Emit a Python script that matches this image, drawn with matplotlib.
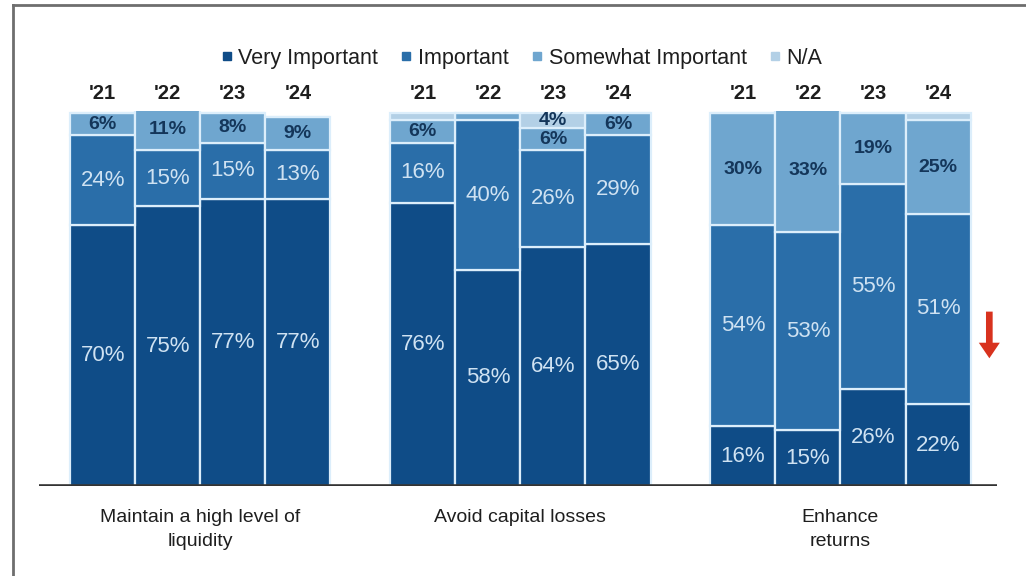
import matplotlib
matplotlib.use("Agg")
import matplotlib.pyplot as plt
from matplotlib.lines import Line2D
import numpy as np

plt.rcParams["font.family"] = ["Liberation Sans", "DejaVu Sans"]

# survey data: share of respondents per rating, by objective and year
years = ["'21", "'22", "'23", "'24"]
objectives = ["Maintain a high level of\nliquidity", "Avoid capital losses", "Enhance\nreturns"]
series_names = ["Very Important", "Important", "Somewhat Important", "N/A"]

very_important = [[70, 75, 77, 77], [76, 58, 64, 65], [16, 15, 26, 22]]
important = [[24, 15, 15, 13], [16, 40, 26, 29], [54, 53, 55, 51]]
somewhat_important = [[6, 11, 8, 9], [6, 2, 6, 6], [30, 33, 19, 25]]
not_applicable = [[0, 0, 0, 0], [2, 0, 4, 0], [0, 0, 0, 2]]

colors = ["#0f4c87", "#2a6ea9", "#6fa6cf", "#b3d0e6"]
label_colors = ["#cfe2f2", "#cfe2f2", "#14365a", "#14365a"]
edge_color = "#dceefb"

group_step = 4.92
bar_width = 1.0

fig = plt.figure(figsize=(10.26, 5.76), dpi=100)
ax = fig.add_axes([0.038, 0.156, 0.934, 0.651])

series = [very_important, important, somewhat_important, not_applicable]
for g in range(len(objectives)):
    x = g * group_step + np.arange(len(years))
    bottom = np.zeros(len(years))
    for s, values in enumerate(series):
        vals = np.array(values[g], dtype=float)
        ax.bar(x, vals, bottom=bottom, width=bar_width, color=colors[s],
               edgecolor=edge_color, linewidth=1.6, zorder=2)
        for xi, b, v in zip(x, bottom, vals):
            if v >= 4:
                bold = s >= 2
                ax.text(xi, b + v / 2, f"{int(v)}%", ha="center", va="center",
                        fontsize=16 if not bold else 14,
                        fontweight="bold" if bold else "normal",
                        color=label_colors[s], zorder=3)
        bottom += vals
    # year labels above each bar
    for xi, yr in zip(x, years):
        ax.text(xi, 102.8, yr, ha="center", va="bottom", fontsize=14.5,
                fontweight="bold", color="#1e1e1e")
    ax.text(x.mean(), -6, objectives[g], ha="center", va="top", fontsize=14,
            color="#1e1e1e", linespacing=1.55)

ax.set_xlim(-0.98, 13.75)
ax.set_ylim(0, 100.5)
ax.axhline(0, color="#333333", linewidth=2.6, zorder=4)
for side in ["top", "right", "left", "bottom"]:
    ax.spines[side].set_visible(False)
ax.set_xticks([])
ax.set_yticks([])

handles = [Line2D([0], [0], marker="s", linestyle="none", markersize=6,
                  markerfacecolor=c, markeredgecolor=c) for c in colors]
fig.legend(handles, series_names, loc="center", bbox_to_anchor=(0.508, 0.899),
           ncol=4, frameon=False, fontsize=15.5, handlelength=0.6,
           handletextpad=0.25, columnspacing=1.0, labelcolor="#1e1e1e")

# red down arrow beside the last group
fig.patches.append(plt.Polygon(
    [[0.9610, 0.459], [0.9675, 0.459], [0.9675, 0.405], [0.9745, 0.405],
     [0.9643, 0.378], [0.9540, 0.405], [0.9610, 0.405]],
    closed=True, transform=fig.transFigure, facecolor="#d8321e",
    edgecolor="none"))

# thin frame around the chart
fig.add_artist(Line2D([0.0127, 1.0], [0.991, 0.991], color="#6e6e6e",
                      linewidth=2, transform=fig.transFigure))
fig.add_artist(Line2D([0.0127, 0.0127], [0.0, 0.991], color="#6e6e6e",
                      linewidth=2, transform=fig.transFigure))

fig.savefig("out.png", dpi=100, facecolor="white")
